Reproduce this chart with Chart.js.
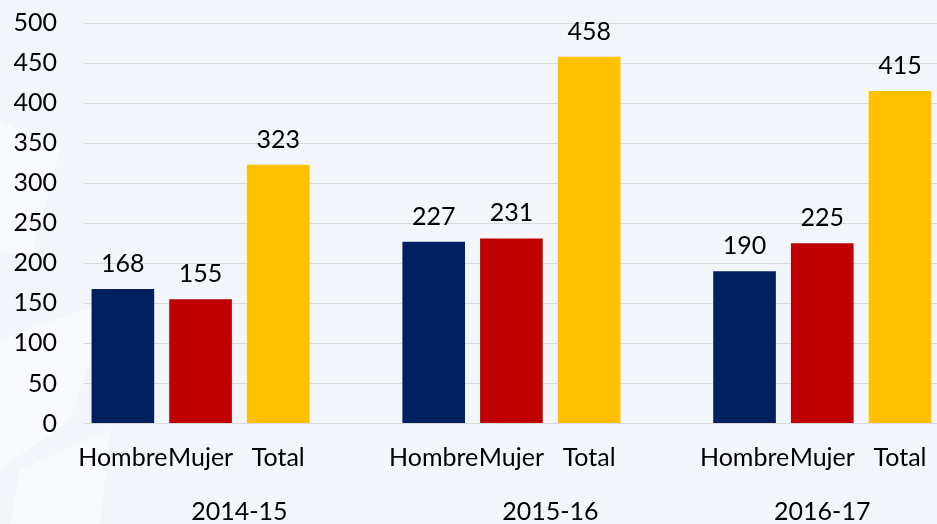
<!DOCTYPE html>
<html>
<head>
<meta charset="utf-8">
<script src="https://cdn.jsdelivr.net/npm/chart.js@4.4.1/dist/chart.umd.min.js"></script>
<style>
  html, body { margin: 0; padding: 0; background: #f2f6fb; overflow: hidden; }
  #wrap { width: 937px; height: 524px; overflow: hidden; position: relative; background: #f2f6fb; }
  canvas { display: block; position: absolute; left: 0; top: 0; }
</style>
</head>
<body>
<div id="wrap"></div>
<script>
// ---- data ----
const years = ['2014-15', '2015-16', '2016-17'];
const groups = ['Hombre', 'Mujer', 'Total'];
const hombre = [168, 227, 190];
const mujer = [155, 231, 225];
const total = [323, 458, 415];
const yTicksMax = 500;
const yTicksStep = 50;

const colors = ['#002060', '#C00000', '#FFC000'];
const FONT = 'Lato, "Open Sans", sans-serif';
const FSIZE = 25;

// build category list: H, M, T, (gap), H, M, T, (gap), H, M, T
const labels = [];
const yearOfIndex = [];
years.forEach((y, yi) => {
  groups.forEach(g => { labels.push(g); yearOfIndex.push(yi); });
  if (yi < years.length - 1) { labels.push(''); yearOfIndex.push(yi); }
});
const seriesVals = [hombre, mujer, total];
function makeDatasets() {
  return groups.map((g, gi) => {
    const data = labels.map(() => null);
    let k = 0;
    labels.forEach((l, i) => {
      if (l === g) { data[i] = seriesVals[gi][k]; k++; }
    });
    return {
      label: g,
      data,
      backgroundColor: colors[gi],
      categoryPercentage: 1,
      barPercentage: 0.806
    };
  });
}

let shiftY = 0;

const bgPlugin = {
  id: 'bg',
  beforeDraw(chart) {
    const ctx = chart.ctx;
    ctx.save();
    ctx.fillStyle = '#f2f6fb';
    ctx.fillRect(0, 0, chart.width, chart.height);
    ctx.translate(0, shiftY);
    // faint watermark shapes on the left
    ctx.fillStyle = 'rgba(255,255,255,0.45)';
    ctx.beginPath();
    ctx.moveTo(0, 340); ctx.lineTo(110, 300); ctx.lineTo(70, 420); ctx.lineTo(0, 470);
    ctx.closePath(); ctx.fill();
    ctx.beginPath();
    ctx.moveTo(0, 120); ctx.lineTo(60, 150); ctx.lineTo(30, 260); ctx.lineTo(0, 250);
    ctx.closePath(); ctx.fill();
    ctx.beginPath();
    ctx.moveTo(20, 470); ctx.lineTo(110, 430); ctx.lineTo(100, 524); ctx.lineTo(10, 524);
    ctx.closePath(); ctx.fill();
    ctx.restore();
  }
};

const labelPlugin = {
  id: 'vals',
  afterDatasetsDraw(chart) {
    const ctx = chart.ctx;
    ctx.save();
    ctx.font = FSIZE + 'px ' + FONT;
    ctx.fillStyle = '#000';
    ctx.textAlign = 'center';
    ctx.textBaseline = 'alphabetic';
    chart.data.datasets.forEach((ds, di) => {
      const meta = chart.getDatasetMeta(di);
      meta.data.forEach((bar, i) => {
        const v = ds.data[i];
        if (v === null || v === undefined) return;
        ctx.fillText(String(v), bar.x, bar.y - 17);
      });
    });
    // year labels spanning their categories
    const xs = chart.scales.x;
    const base = chart.chartArea.bottom;
    years.forEach((y, yi) => {
      const idx = yearOfIndex.map((v, i) => v === yi ? i : -1).filter(i => i >= 0);
      const first = idx[0], last = idx[idx.length - 1];
      const half = (xs.getPixelForValue(1) - xs.getPixelForValue(0)) / 2;
      const left = xs.getPixelForValue(first) - half;
      const right = xs.getPixelForValue(last) + half;
      ctx.fillText(y, (left + right) / 2, base + 96.5);
    });
    ctx.restore();
  }
};

const wrap = document.getElementById('wrap');
let canvas, chart;
function build(h) {
  if (chart) chart.destroy();
  if (canvas) canvas.remove();
  canvas = document.createElement('canvas');
  canvas.width = 946;
  canvas.height = h;
  wrap.appendChild(canvas);
  chart = new Chart(canvas, {
    type: 'bar',
    data: { labels, datasets: makeDatasets() },
    plugins: [bgPlugin, labelPlugin],
    options: {
      responsive: false,
      maintainAspectRatio: false,
      animation: false,
      devicePixelRatio: 1,
      layout: { padding: { top: 6, right: 1, left: 0, bottom: 0 } },
      plugins: { legend: { display: false }, tooltip: { enabled: false } },
      scales: {
        x: {
          stacked: true,
          grid: { display: false, drawTicks: false },
          border: { display: true, color: '#d9d9d9', width: 1 },
          ticks: {
            autoSkip: false, maxRotation: 0, minRotation: 0,
            color: '#000', padding: 19.5,
            font: { family: FONT, size: FSIZE }
          },
          afterFit(scale) { scale.height = 100.5; }
        },
        y: {
          stacked: true,
          min: 0, max: yTicksMax,
          grid: { color: '#d9d9d9', drawTicks: false, lineWidth: 1 },
          border: { display: false },
          ticks: {
            stepSize: yTicksStep, color: '#000', padding: 27,
            font: { family: FONT, size: FSIZE }
          },
          afterFit(scale) { scale.width = 84; }
        }
      }
    }
  });
}

// size the canvas so the plot spans 400px (0..500), top at y=23.5, bottom at 423.5
let H = 524;
build(H);
for (let k = 0; k < 3; k++) {
  const ca = chart.chartArea;
  const delta = Math.round(400 - (ca.bottom - ca.top));
  if (delta === 0) break;
  H += delta;
  build(H);
}
shiftY = Math.round(chart.chartArea.top - 23.5);
canvas.style.top = (-shiftY) + 'px';
chart.draw();
</script>
</body>
</html>
